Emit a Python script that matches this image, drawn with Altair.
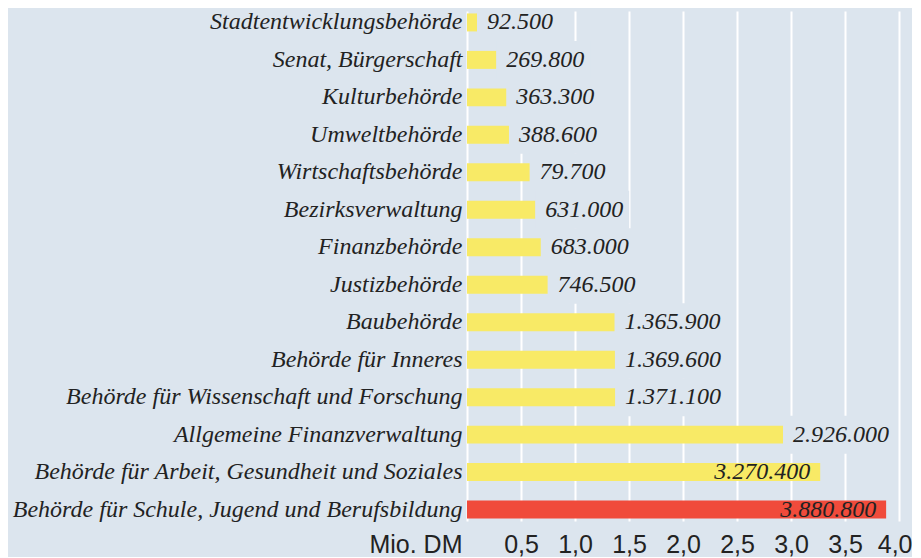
import altair as alt
import pandas as pd

categories = [
    "Stadtentwicklungsbehörde",
    "Senat, Bürgerschaft",
    "Kulturbehörde",
    "Umweltbehörde",
    "Wirtschaftsbehörde",
    "Bezirksverwaltung",
    "Finanzbehörde",
    "Justizbehörde",
    "Baubehörde",
    "Behörde für Inneres",
    "Behörde für Wissenschaft und Forschung",
    "Allgemeine Finanzverwaltung",
    "Behörde für Arbeit, Gesundheit und Soziales",
    "Behörde für Schule, Jugend und Berufsbildung",
]
values_dm = [92500, 269800, 363300, 388600, 579700, 631000, 683000, 746500,
             1365900, 1369600, 1371100, 2926000, 3270400, 3880800]
value_labels = ["92.500", "269.800", "363.300", "388.600", "79.700", "631.000",
                "683.000", "746.500", "1.365.900", "1.369.600", "1.371.100",
                "2.926.000", "3.270.400", "3.880.800"]
label_inside = [False] * 12 + [True, True]
highlight = [False] * 13 + [True]
tick_values = [0, 0.5, 1.0, 1.5, 2.0, 2.5, 3.0, 3.5, 4.0]

BG = "#dce5ee"
YELLOW = "#f8ea66"
RED = "#f04b3b"
PX_PER_UNIT = 108.0
SERIF = "Liberation Serif"
SANS = "Liberation Sans"


def label_px(s):
    return sum(6 if c == "." else 12 for c in s)


df = pd.DataFrame({
    "cat": categories,
    "mio": [v / 1e6 for v in values_dm],
    "label": value_labels,
    "inside": label_inside,
    "highlight": highlight,
})
df["mask_end"] = df["mio"] + (df["label"].map(label_px) + 16) / PX_PER_UNIT

y_enc = alt.Y(
    "cat:N",
    sort=categories,
    scale=alt.Scale(paddingInner=0.52, paddingOuter=0.065),
    axis=alt.Axis(
        title=None,
        labelFont=SERIF,
        labelFontStyle="italic",
        labelFontSize=24,
        labelColor="#222222",
        labelPadding=5,
        ticks=False,
        domain=False,
        grid=False,
        labelLimit=470,
        minExtent=455,
        maxExtent=455,
    ),
)

x_scale = alt.Scale(domain=[0, 4], nice=False)
x_axis = alt.Axis(
    values=tick_values,
    labelExpr="datum.value == 0 ? '' : replace(format(datum.value, '.1f'), '.', ',')",
    labelFont=SANS,
    labelFontSize=25,
    labelColor="#222222",
    labelPadding=11,
    labelFlush=True,
    labelFlushOffset=13,
    labelOverlap=False,
    ticks=False,
    domain=False,
    grid=True,
    gridColor="white",
    gridWidth=2,
    gridOpacity=1,
    title="Mio. DM",
    titleFont=SANS,
    titleFontSize=25,
    titleFontWeight="normal",
    titleColor="#222222",
    titleX=-5,
    titleY=11,
    titleAlign="right",
    titleBaseline="top",
)

base = alt.Chart(df)

mask = base.transform_filter("!datum.inside").mark_bar(color=BG, size=38, clip=True).encode(
    x=alt.X("mio:Q", scale=x_scale, axis=x_axis),
    x2="mask_end:Q",
    y=y_enc,
)

bars = base.mark_bar().encode(
    x=alt.X("mio:Q", scale=x_scale, axis=x_axis),
    y=y_enc,
    color=alt.condition("datum.highlight", alt.value(RED), alt.value(YELLOW)),
)

text_out = base.transform_filter("!datum.inside").mark_text(
    align="left", dx=10, font=SERIF, fontStyle="italic",
    fontSize=24, color="#222222"
).encode(
    x=alt.X("mio:Q", scale=x_scale, axis=x_axis),
    y=y_enc,
    text="label:N",
)

text_in = base.transform_filter("datum.inside").mark_text(
    align="right", dx=-10, font=SERIF, fontStyle="italic",
    fontSize=24, color="#222222"
).encode(
    x=alt.X("mio:Q", scale=x_scale, axis=x_axis),
    y=y_enc,
    text="label:N",
)

chart = alt.layer(mask, bars, text_out, text_in).properties(
    width=432,
    height=510,
    background=BG,
    padding={"left": 4, "top": 1, "right": 0, "bottom": 0},
).configure_view(stroke=None)

chart.save("out.html", embed_options={"renderer": "svg", "actions": False})
